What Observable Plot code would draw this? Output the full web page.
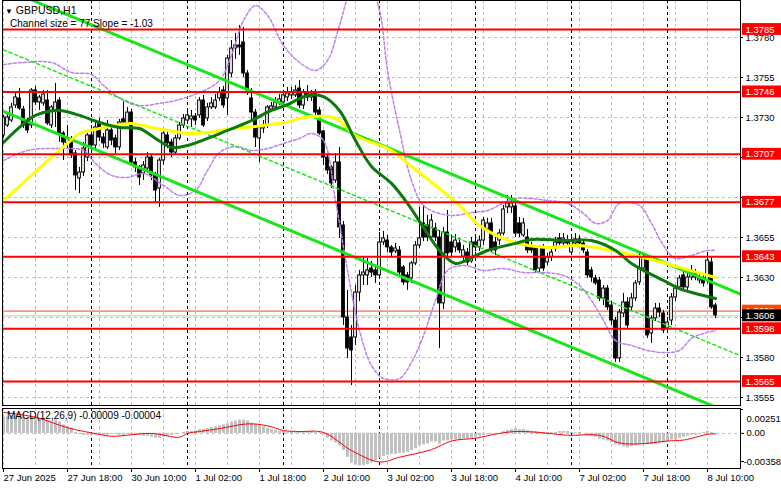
<!DOCTYPE html>
<html><head><meta charset="utf-8">
<script src="https://cdn.jsdelivr.net/npm/d3@7"></script>
<script src="https://cdn.jsdelivr.net/npm/@observablehq/plot@0.6"></script>
<style>
body{margin:0;background:#fff;}
#wrap{position:relative;width:781px;height:489px;overflow:hidden;font-family:"Liberation Sans",Arial,sans-serif;background:#fff;}
#main,#macd{position:absolute;left:0;line-height:0;}
#main{top:0;height:406px;z-index:1}
#macd{top:406px;height:83px;z-index:2}
#main svg,#macd svg{background:transparent !important;}
.lbl{position:absolute;font-size:10px;color:#000;white-space:nowrap;line-height:12px;z-index:3}
</style></head>
<body><div id="wrap"><div id="main"></div><div id="macd"></div>
<div class="lbl" style="left:5px;top:4px;font-size:10.5px"><span style="font-size:8px">▼</span> GBPUSD,H1</div>
<div class="lbl" style="left:10px;top:18px">Channel size = 77 Slope = -1.03</div>
<div class="lbl" style="left:7px;top:410px">MACD(12,26,9) -0.00009 -0.00004</div>
</div>
<script>
// ---- data ----
// candles [open, high, low, close], GBPUSD H1, 27 Jun 02:00 .. 8 Jul 12:00
const ohlc = [
[1.37188,1.37313,1.37170,1.37300],[1.37250,1.37325,1.37238,1.37300],[1.37281,1.37388,1.37269,1.37363],[1.37375,1.37456,1.37356,1.37425],
[1.37419,1.37481,1.37344,1.37356],[1.37350,1.37369,1.37231,1.37250],[1.37263,1.37294,1.37200,1.37219],[1.37250,1.37481,1.37231,1.37469],
[1.37469,1.37494,1.37375,1.37394],[1.37394,1.37438,1.37344,1.37425],[1.37388,1.37469,1.37370,1.37444],[1.37406,1.37469,1.37250,1.37263],
[1.37250,1.37375,1.37231,1.37363],[1.37344,1.37513,1.37238,1.37394],[1.37406,1.37425,1.37144,1.37200],[1.37200,1.37213,1.37031,1.37144],
[1.37138,1.37250,1.37106,1.37169],[1.37156,1.37181,1.37044,1.37063],[1.37075,1.37094,1.36844,1.36938],[1.36919,1.36988,1.36825,1.36956],
[1.36956,1.37144,1.36931,1.37106],[1.37050,1.37200,1.37025,1.37188],[1.37188,1.37250,1.37094,1.37125],[1.37125,1.37269,1.37100,1.37238],
[1.37263,1.37294,1.37150,1.37175],[1.37175,1.37200,1.37106,1.37138],[1.37113,1.37281,1.37100,1.37219],[1.37219,1.37250,1.37125,1.37156],
[1.37169,1.37190,1.37075,1.37113],[1.37113,1.37288,1.37094,1.37269],[1.37288,1.37406,1.37250,1.37269],[1.37263,1.37363,1.37250,1.37331],
[1.37331,1.37350,1.37000,1.37019],[1.37019,1.37044,1.36956,1.36988],[1.36988,1.37000,1.36875,1.36925],[1.36950,1.37025,1.36906,1.37000],
[1.36981,1.37081,1.36950,1.37050],[1.37050,1.37069,1.36906,1.36938],[1.36938,1.36956,1.36769,1.36844],[1.36856,1.37044,1.36738,1.37031],
[1.37031,1.37225,1.37000,1.37200],[1.37188,1.37219,1.37106,1.37138],[1.37144,1.37163,1.37050,1.37081],[1.37081,1.37188,1.37063,1.37169],
[1.37169,1.37269,1.37156,1.37250],[1.37250,1.37319,1.37231,1.37294],[1.37281,1.37344,1.37256,1.37313],[1.37288,1.37344,1.37238,1.37306],
[1.37306,1.37325,1.37250,1.37281],[1.37313,1.37425,1.37294,1.37406],[1.37406,1.37438,1.37238,1.37250],[1.37294,1.37388,1.37275,1.37363],
[1.37363,1.37425,1.37350,1.37388],[1.37363,1.37444,1.37350,1.37406],[1.37419,1.37488,1.37400,1.37456],[1.37469,1.37494,1.37356,1.37375],
[1.37419,1.37688,1.37313,1.37669],[1.37575,1.37781,1.37550,1.37731],[1.37731,1.37825,1.37663,1.37750],[1.37750,1.37875,1.37688,1.37738],
[1.37769,1.37863,1.37550,1.37575],[1.37575,1.37594,1.37438,1.37469],[1.37419,1.37481,1.37281,1.37331],[1.37331,1.37350,1.37113,1.37175],
[1.37169,1.37250,1.37019,1.37238],[1.37231,1.37281,1.37200,1.37250],[1.37250,1.37375,1.37231,1.37363],[1.37350,1.37394,1.37331,1.37369],
[1.37363,1.37425,1.37350,1.37394],[1.37394,1.37444,1.37375,1.37413],[1.37394,1.37469,1.37375,1.37438],[1.37425,1.37488,1.37400,1.37450],
[1.37438,1.37488,1.37413,1.37456],[1.37438,1.37500,1.37425,1.37469],[1.37481,1.37531,1.37356,1.37375],[1.37375,1.37475,1.37350,1.37456],
[1.37450,1.37500,1.37400,1.37425],[1.37425,1.37469,1.37400,1.37444],[1.37450,1.37475,1.37313,1.37331],[1.37344,1.37363,1.37188,1.37200],
[1.37213,1.37219,1.37000,1.37050],[1.37050,1.37063,1.36944,1.36969],[1.36988,1.37000,1.36856,1.36888],[1.36906,1.37075,1.36888,1.37019],
[1.37019,1.37113,1.36544,1.36613],[1.36625,1.36650,1.36000,1.36050],[1.36050,1.36219,1.35794,1.35856],[1.35925,1.36000,1.35625,1.35844],
[1.35925,1.36250,1.35875,1.36206],[1.36206,1.36344,1.36150,1.36313],[1.36313,1.36425,1.36250,1.36331],[1.36313,1.36419,1.36250,1.36344],
[1.36356,1.36400,1.36300,1.36331],[1.36344,1.36375,1.36263,1.36313],[1.36313,1.36581,1.36300,1.36519],[1.36519,1.36588,1.36500,1.36544],
[1.36531,1.36563,1.36456,1.36488],[1.36488,1.36500,1.36425,1.36456],[1.36463,1.36513,1.36450,1.36481],[1.36469,1.36494,1.36313,1.36331],
[1.36363,1.36375,1.36250,1.36269],[1.36313,1.36331,1.36219,1.36269],[1.36294,1.36400,1.36263,1.36388],[1.36388,1.36525,1.36375,1.36500],
[1.36500,1.36738,1.36481,1.36544],[1.36638,1.36750,1.36525,1.36550],[1.36625,1.36688,1.36525,1.36550],[1.36550,1.36694,1.36525,1.36656],
[1.36606,1.36638,1.36525,1.36550],[1.36550,1.36594,1.35856,1.36138],[1.36138,1.36613,1.36100,1.36581],[1.36581,1.36719,1.36425,1.36450],
[1.36519,1.36563,1.36425,1.36456],[1.36488,1.36569,1.36456,1.36531],[1.36513,1.36544,1.36450,1.36469],[1.36430,1.36500,1.36400,1.36470],
[1.36456,1.36481,1.36375,1.36394],[1.36400,1.36550,1.36388,1.36519],[1.36519,1.36550,1.36460,1.36488],[1.36488,1.36560,1.36463,1.36531],
[1.36531,1.36675,1.36500,1.36656],[1.36600,1.36670,1.36580,1.36638],[1.36638,1.36670,1.36450,1.36469],[1.36519,1.36550,1.36438,1.36469],
[1.36531,1.36600,1.36500,1.36575],[1.36575,1.36750,1.36560,1.36725],[1.36738,1.36813,1.36700,1.36763],[1.36738,1.36813,1.36700,1.36763],
[1.36744,1.36788,1.36550,1.36575],[1.36638,1.36675,1.36550,1.36575],[1.36563,1.36669,1.36550,1.36638],[1.36550,1.36600,1.36450,1.36469],
[1.36488,1.36520,1.36450,1.36469],[1.36488,1.36500,1.36325,1.36344],[1.36356,1.36500,1.36331,1.36488],[1.36488,1.36506,1.36338,1.36356],
[1.36394,1.36450,1.36375,1.36425],[1.36425,1.36475,1.36400,1.36456],[1.36481,1.36550,1.36460,1.36519],[1.36544,1.36575,1.36500,1.36513],
[1.36513,1.36575,1.36500,1.36544],[1.36531,1.36563,1.36494,1.36513],[1.36456,1.36563,1.36440,1.36531],[1.36513,1.36575,1.36500,1.36538],
[1.36538,1.36560,1.36500,1.36513],[1.36513,1.36531,1.36450,1.36469],[1.36456,1.36475,1.36294,1.36313],[1.36344,1.36363,1.36269,1.36300],
[1.36294,1.36313,1.36250,1.36263],[1.36281,1.36300,1.36150,1.36169],[1.36169,1.36250,1.36125,1.36231],[1.36231,1.36250,1.36094,1.36113],
[1.36125,1.36150,1.36000,1.36031],[1.36031,1.36050,1.35769,1.35794],[1.35794,1.36100,1.35769,1.36081],[1.36075,1.36200,1.36050,1.36144],
[1.36144,1.36175,1.35975,1.36000],[1.36113,1.36200,1.36090,1.36169],[1.36169,1.36280,1.36150,1.36263],[1.36269,1.36456,1.36250,1.36356],
[1.36356,1.36450,1.36331,1.36419],[1.36419,1.36438,1.35919,1.35938],[1.35950,1.36060,1.35888,1.36044],[1.36044,1.36138,1.36025,1.36106],
[1.36106,1.36138,1.36050,1.36081],[1.36075,1.36094,1.35950,1.35969],[1.35981,1.36050,1.35963,1.36019],[1.36031,1.36200,1.36000,1.36175],
[1.36175,1.36250,1.36150,1.36231],[1.36238,1.36313,1.36219,1.36294],[1.36313,1.36344,1.36219,1.36238],[1.36238,1.36330,1.36220,1.36300],
[1.36300,1.36375,1.36280,1.36344],[1.36325,1.36350,1.36280,1.36300],[1.36281,1.36320,1.36260,1.36294],[1.36294,1.36320,1.36240,1.36263],
[1.36281,1.36456,1.36260,1.36406],[1.36394,1.36425,1.36100,1.36113],[1.36125,1.36138,1.36044,1.36063]
];

// moving averages (bar index, price)
const maSlowIdx = [0,16,19,24,32,37,41,46,51,57,63,70,77,83,88,97,102,109,114,119,127,136,144,152,161,169,178];
const maSlow = [1.36781,1.37138,1.37200,1.37231,1.37263,1.37238,1.37219,1.37200,1.37206,1.37231,1.37244,1.37269,1.37306,1.37294,1.37188,1.37094,1.36994,1.36856,1.36750,1.36625,1.36525,1.36488,1.36500,1.36469,1.36419,1.36363,1.36300];
const maFastIdx = [0,4,8,14,19,24,29,34,38,42,46,51,56,61,67,71,76,80,84,88,92,97,101,105,109,113,117,121,128,132,140,147,153,157,165,169,173,178];
const maFast = [1.37144,1.37238,1.37313,1.37344,1.37313,1.37269,1.37238,1.37231,1.37169,1.37113,1.37125,1.37169,1.37219,1.37269,1.37344,1.37381,1.37438,1.37431,1.37344,1.37156,1.36994,1.36888,1.36763,1.36613,1.36469,1.36388,1.36425,1.36469,1.36513,1.36538,1.36531,1.36531,1.36469,1.36388,1.36281,1.36231,1.36200,1.36169];

// envelope bands (violet dashed)
const bandUpIdx = [0,5,12,17,22,25,30,34,39,43,49,54,57,60,63,66,70,74,78,81,84,87,91,94,96,99,102,105,109,113,117,121,128,136,141,145,148,151,154,159,162,165,168,172,176,178];
const bandUp = [1.37631,1.37644,1.37644,1.37581,1.37569,1.37500,1.37406,1.37375,1.37388,1.37406,1.37456,1.37531,1.37688,1.37906,1.38000,1.37938,1.37750,1.37644,1.37594,1.37656,1.37875,1.38094,1.38156,1.37969,1.37594,1.37219,1.36906,1.36750,1.36700,1.36688,1.36706,1.36719,1.36794,1.36781,1.36763,1.36700,1.36638,1.36656,1.36763,1.36750,1.36638,1.36500,1.36419,1.36438,1.36469,1.36469];
const bandLoIdx = [0,6,15,20,23,27,31,35,40,44,48,51,54,58,62,66,70,74,77,80,83,86,89,92,95,99,102,105,108,111,115,120,125,130,135,140,144,147,150,153,157,161,165,169,172,175,178];
const bandLo = [1.37031,1.37094,1.37106,1.37094,1.37013,1.36938,1.36925,1.36950,1.36875,1.36813,1.36844,1.36969,1.37081,1.37119,1.37094,1.37106,1.37138,1.37169,1.37200,1.37156,1.36781,1.36344,1.35969,1.35750,1.35669,1.35669,1.35769,1.35938,1.36156,1.36344,1.36375,1.36344,1.36356,1.36331,1.36331,1.36313,1.36250,1.36156,1.36031,1.35906,1.35875,1.35844,1.35831,1.35844,1.35919,1.35950,1.35969];

// regression channel (size 77 pips, slope -1.03)
const channelIdx = [0,185];
const channelUpper = [1.38108,1.36188];
const channelMid = [1.37723,1.35803];
const channelLower = [1.37338,1.35418];

// horizontal levels
const levels = [1.3785,1.3746,1.3707,1.3677,1.3643,1.3598,1.3565];
const orangeLevel = 1.3609;
const bidPrice = 1.3606;
const yTicks = [1.3780,1.3755,1.3730,1.3705,1.3680,1.3655,1.3630,1.3605,1.3580,1.3555];
const yTickLabelled = [1.3780,1.3755,1.3730,1.3655,1.3630,1.3580,1.3555];

// time axis
const tickIdx = [0,16,32,48,64,80,96,112,128,144,160,176];
const tickLabels = ["27 Jun 2025","27 Jun 18:00","30 Jun 10:00","1 Jul 02:00","1 Jul 18:00","2 Jul 10:00","3 Jul 02:00","3 Jul 18:00","4 Jul 10:00","7 Jul 02:00","7 Jul 18:00","8 Jul 10:00"];
const daySepIdx = [22,46,70,94,118,142,166];

// MACD(12,26,9)
const macdHist = [
0.0017,0.0017,0.0018,0.0019,0.0018,0.0017,0.0016,0.0017,
0.0017,0.0016,0.0016,0.0014,0.0013,0.0014,0.0012,
0.0009,0.0007,0.0006,0.0001,-0.0001,-0.0002,-0.0002,-0.0002,
-0.0002,-0.0001,-0.0002,-0.0002,-0.0001,-0.0001,-0.0002,-0.0002,-0.0001,-0.0001,-0.0002,-0.0002,-0.0003,-0.0003,
-0.0004,-0.0005,-0.0005,-0.0004,-0.0003,-0.0002,-0.0001,0.0000,
0.0001,0.0002,0.0002,0.0003,0.0004,0.0004,0.0005,0.0006,0.0007,0.0008,0.0009,0.0010,
0.0012,0.0013,0.0014,0.0014,0.0013,
0.0011,0.0010,0.0008,0.0007,0.0005,0.0004,0.0003,0.0002,0.0002,
0.0001,0.0002,0.0002,0.0002,0.0002,0.0002,0.0002,0.0001,0.0001,
-0.0002,-0.0005,-0.0008,-0.0010,-0.0013,-0.0018,
-0.0025,-0.0031,-0.0033,-0.0034,-0.0034,-0.0033,
-0.0031,-0.0029,-0.0026,-0.0024,-0.0023,
-0.0022,-0.0022,-0.0021,-0.0021,-0.0020,-0.0018,-0.0016,-0.0013,-0.0012,-0.0011,-0.0009,-0.0009,-0.0011,
-0.0008,-0.0008,-0.0007,-0.0007,-0.0007,-0.0006,-0.0006,-0.0005,-0.0004,-0.0003,-0.0002,-0.0001,-0.0001,-0.0001,0.0000,
0.0002,0.0003,0.0004,0.0005,0.0004,0.0004,0.0003,
0.0002,0.0002,0.0001,0.0001,0.0001,0.0001,0.0001,0.0002,0.0002,0.0002,0.0001,0.0001,0.0001,0.0000,
-0.0002,-0.0003,-0.0004,-0.0006,-0.0007,-0.0008,-0.0010,-0.0012,-0.0013,-0.0014,-0.0015,-0.0014,
-0.0013,-0.0012,-0.0011,-0.0012,-0.0012,-0.0011,-0.0010,-0.0010,-0.0009,-0.0007,-0.0007,-0.0005,-0.0004,-0.0003,-0.0002,-0.0002,-0.0001,
0.0001,0.0002,0.0001,-0.00009
];
const signalIdx = [0,8,16,24,27,37,44,46,49,54,61,66,70,74,80,87,94,99,107,112,118,124,128,134,141,149,154,159,166,170,176,178];
const signal = [0.0022,0.0017,0.0006,-0.0001,-0.0003,0.0000,-0.0004,0.0000,0.0002,0.0005,0.0010,0.0008,0.0003,0.0002,0.0001,-0.0018,-0.0030,-0.0025,-0.0017,-0.0008,-0.0005,0.0000,0.0002,0.0001,-0.0002,-0.0002,-0.0010,-0.0011,-0.0008,-0.0007,-0.0001,-0.00004];
const macdMax = 0.00251, macdMin = -0.00358;

// ---- drawing ----
const bars = ohlc.map((d,i)=>({i, o:d[0], h:d[1], l:d[2], c:d[3]}));
const histData = macdHist.map((v,i)=>({i, v}));
const gridIdx = d3.range(0, 179, 8);
const font = {fontFamily:"'Liberation Sans',Arial,sans-serif", fontSize:"9.5px", overflow:"visible", background:"transparent"};
const gridGray = "#c0c0c0";
const bandColor = "#bf7fef";
const lime = "#19e619";
const boxH = 0.00037;
const labX = () => 185.5;   // label column right of the frame
const tickX1 = () => 184.25, tickX2 = () => 185;

const main = Plot.plot({
  width:781, height:406, marginLeft:2, marginRight:41, marginTop:0, marginBottom:1,
  style: font,
  x: {domain:[0,178], range:[3,715], axis:null},
  y: {domain:[1.3555,1.3780], range:[397,37], axis:null},
  marks: [
    Plot.ruleY(yTicks, {stroke:gridGray, strokeDasharray:"3,3"}),
    Plot.ruleX(gridIdx, {stroke:gridGray, strokeDasharray:"3,3"}),
    Plot.ruleX(daySepIdx, {stroke:"#000", strokeDasharray:"3,3"}),
    Plot.ruleY([bidPrice], {stroke:"#c0c0c0"}),
    Plot.ruleY([orangeLevel], {stroke:"#ff4a00"}),
    Plot.ruleX(bars, {x:"i", y1:"l", y2:"h", stroke:"#000", clip:true}),
    Plot.rect(bars, {x1:d=>d.i-0.34, x2:d=>d.i+0.34, y1:"o", y2:"c",
      fill:d=>d.c>=d.o?"#fff":"#000", stroke:"#000", strokeWidth:1, clip:true}),
    Plot.line(bandUp, {x:bandUpIdx, y:bandUp, stroke:bandColor, strokeDasharray:"3,2", curve:"catmull-rom", clip:true}),
    Plot.line(bandLo, {x:bandLoIdx, y:bandLo, stroke:bandColor, strokeDasharray:"3,2", curve:"catmull-rom", clip:true}),
    Plot.line(channelMid, {x:channelIdx, y:channelMid, stroke:lime, strokeDasharray:"3,3", clip:true}),
    Plot.line(channelUpper, {x:channelIdx, y:channelUpper, stroke:lime, strokeWidth:3, clip:true}),
    Plot.line(channelLower, {x:channelIdx, y:channelLower, stroke:lime, strokeWidth:3, clip:true}),
    Plot.line(maSlow, {x:maSlowIdx, y:maSlow, stroke:"#ffff00", strokeWidth:3, curve:"catmull-rom", clip:true}),
    Plot.line(maFast, {x:maFastIdx, y:maFast, stroke:"#0a7a0a", strokeWidth:3, curve:"catmull-rom", clip:true}),
    Plot.ruleY(levels, {stroke:"#ff0000", strokeWidth:2}),
    Plot.frame({stroke:"#000"}),
    Plot.ruleY(yTicks, {x1:tickX1, x2:tickX2, stroke:"#000"}),
    Plot.text(yTickLabelled, {x:labX, y:d=>d, text:d=>d.toFixed(4), fill:"#000", textAnchor:"start"}),
    Plot.rect([orangeLevel], {x1:()=>184.75, x2:()=>194.5, y1:d=>d-boxH, y2:d=>d+boxH, fill:"#ff4a00"}),
    Plot.text([orangeLevel], {x:labX, y:d=>d, text:d=>d.toFixed(4), fill:"#fff", textAnchor:"start"}),
    Plot.rect(levels, {x1:()=>184.75, x2:()=>194.5, y1:d=>d-boxH, y2:d=>d+boxH, fill:"#ff0000"}),
    Plot.text(levels, {x:labX, y:d=>d, text:d=>d.toFixed(4), fill:"#fff", textAnchor:"start"}),
    Plot.rect([bidPrice], {x1:()=>184.75, x2:()=>194.5, y1:d=>d-boxH, y2:d=>d+boxH, fill:"#000"}),
    Plot.text([bidPrice], {x:labX, y:d=>d, text:d=>d.toFixed(4), fill:"#fff", textAnchor:"start"})
  ]
});
document.getElementById("main").appendChild(main);

const labelOf = new Map(tickIdx.map((d,k)=>[d, tickLabels[k]]));
const macd = Plot.plot({
  width:781, height:83, marginLeft:2, marginRight:41, marginTop:2, marginBottom:21,
  style: font,
  x: {domain:[0,178], range:[3,715], axis:null, label:null},
  y: {domain:[macdMin, macdMax], range:[61,3], axis:null, label:null},
  marks: [
    Plot.ruleX(gridIdx, {stroke:gridGray, strokeDasharray:"3,3"}),
    Plot.ruleX(daySepIdx, {stroke:"#000", strokeDasharray:"3,3"}),
    Plot.ruleY([0], {stroke:gridGray, strokeDasharray:"3,3"}),
    Plot.ruleX(histData, {x:"i", y1:()=>0, y2:"v", stroke:"#c0c0c0", strokeWidth:3, clip:true}),
    Plot.line(signal, {x:signalIdx, y:signal, stroke:"#ff0000", strokeWidth:1, curve:"catmull-rom", clip:true}),
    Plot.frame({stroke:"#000"}),
    Plot.axisX(tickIdx, {anchor:"bottom", label:null, tickSize:4, tickPadding:2, textAnchor:"start", tickFormat:d=>labelOf.get(d), fill:"#000"}),
    Plot.ruleY([macdMax], {x1:tickX1, x2:tickX2, stroke:"#000"}),
    Plot.text([macdMax], {frameAnchor:"top-right", dx:6, dy:7, text:d=>d.toFixed(5), textAnchor:"start", fill:"#000"}),
    Plot.axisY([0], {anchor:"right", label:null, tickSize:3, tickPadding:3, tickFormat:()=>"0.00", fill:"#000"}),
    Plot.axisY([macdMin], {anchor:"right", label:null, tickSize:3, tickPadding:0, dy:-6, tickFormat:d=>d.toFixed(5), fill:"#000"})
  ]
});
document.getElementById("macd").appendChild(macd);
</script>
</body></html>
